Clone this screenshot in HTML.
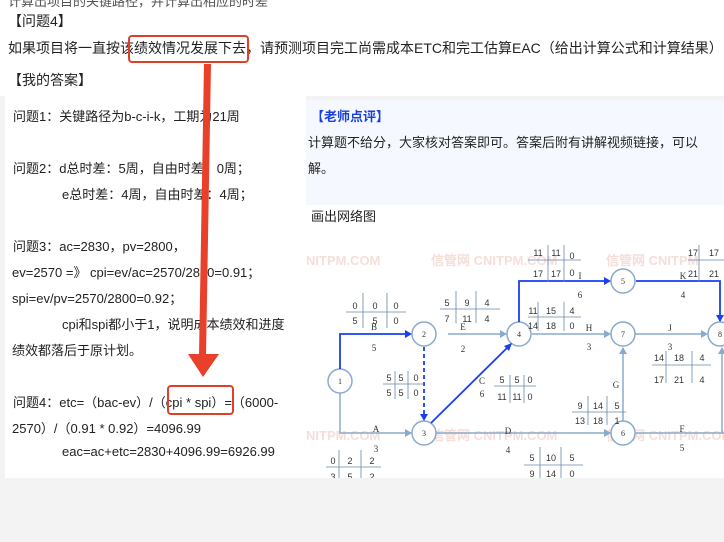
<!DOCTYPE html>
<html><head><meta charset="utf-8"><style>
body{margin:0;width:724px;height:542px;background:#f3f3f3;position:relative;overflow:hidden;font-family:"Liberation Sans","Noto Sans CJK SC",sans-serif;color:#222}
.t{position:absolute;white-space:nowrap}
.top{position:absolute;left:0;top:0;width:724px;height:96px;background:#fff}
.left{position:absolute;left:5px;top:96px;width:301px;height:382px;background:#fff}
.l{position:absolute;font-size:13px;white-space:nowrap}
</style></head><body>
<div class="top"></div>
<div class="left"></div>
<div class="t" style="left:8px;top:-9px;font-size:13px;color:#555">计算出项目的关键路径，并计算出相应的时差</div>
<div class="t" style="left:8px;top:11px;font-size:14px">【问题4】</div>
<div class="t" style="left:8px;top:38px;font-size:14px">如果项目将一直按该绩效情况发展下去，请预测项目完工尚需成本ETC和完工估算EAC（给出计算公式和计算结果）</div>
<div style="position:absolute;left:128px;top:35px;width:117px;height:24px;border:2px solid #e0402a;border-radius:4px"></div>
<div class="t" style="left:8px;top:70px;font-size:14px">【我的答案】</div>
<div class="l" style="left:13px;top:106px">问题1：关键路径为b-c-i-k，工期为21周</div>
<div class="l" style="left:13px;top:158px">问题2：d总时差：5周，自由时差：0周；</div>
<div class="l" style="left:62px;top:184px">e总时差：4周，自由时差：4周；</div>
<div class="l" style="left:13px;top:236px">问题3：ac=2830，pv=2800，</div>
<div class="l" style="left:12px;top:262px">ev=2570 =》 cpi=ev/ac=2570/2830=0.91；</div>
<div class="l" style="left:12px;top:288px">spi=ev/pv=2570/2800=0.92；</div>
<div class="l" style="left:62px;top:314px">cpi和spi都小于1，说明成本绩效和进度</div>
<div class="l" style="left:12px;top:340px">绩效都落后于原计划。</div>
<div class="l" style="left:13px;top:392px">问题4：etc=（bac-ev）/（cpi * spi）=（6000-</div>
<div class="l" style="left:12px;top:418px">2570）/（0.91 * 0.92）=4096.99</div>
<div class="l" style="left:62px;top:444px">eac=ac+etc=2830+4096.99=6926.99</div>
<div style="position:absolute;left:167px;top:385px;width:63px;height:26px;border:2px solid #e0402a;border-radius:4px"></div>
<svg style="position:absolute;left:0;top:0" width="724" height="542">
<polygon points="204,64 211,64 206,356 199,356" fill="#e8402a"/>
<polygon points="188,354 219,354 203,377" fill="#e8402a"/>
</svg>
<div style="position:absolute;left:306px;top:100px;width:418px;height:105px;background:#f5f9ff"></div>
<div class="t" style="left:311px;top:106px;font-size:13px;color:#1a3fe0;font-weight:bold">【老师点评】</div>
<div class="t" style="left:308px;top:132px;font-size:13px">计算题不给分，大家核对答案即可。答案后附有讲解视频链接，可以</div>
<div class="t" style="left:308px;top:158px;font-size:13px">解。</div>
<div style="position:absolute;left:306px;top:205px;width:418px;height:273px;background:#fff"></div>
<div class="t" style="left:311px;top:206px;font-size:13px">画出网络图</div>
<svg style="position:absolute;left:306px;top:205px" width="418" height="273" font-family="Liberation Serif,serif" font-size="9" fill="#333">
<g fill="#f4d6d0" font-family="Liberation Sans,sans-serif" font-size="13" font-weight="bold" opacity="0.8">
<text x="0" y="60">NITPM.COM</text><text x="125" y="60">信管网 CNITPM.COM</text><text x="300" y="60">信管网 CNITPM</text>
<text x="0" y="235">NITPM.COM</text><text x="125" y="235">信管网 CNITPM.COM</text><text x="300" y="235">信管网 CNITPM.COM</text>
</g>
<g stroke="#8aaacc" stroke-width="1.5" fill="none">
<path d="M34 188 V228 H106"/><path d="M130 228 H305"/><path d="M328 228 H418"/>
<path d="M142 129 H200"/><path d="M226 129 H300"/><path d="M325 129 H400"/>
<path d="M317 216 V143"/><path d="M416 228 V143"/>
<circle cx="34" cy="176" r="12" fill="#fff"/><circle cx="118" cy="129" r="12" fill="#fff"/>
<circle cx="118" cy="228" r="12" fill="#fff"/><circle cx="213" cy="129" r="12" fill="#fff"/>
<circle cx="317" cy="76" r="12" fill="#fff"/><circle cx="317" cy="129" r="12" fill="#fff"/>
<circle cx="317" cy="228" r="12" fill="#fff"/><circle cx="414" cy="129" r="12" fill="#fff"/>
</g>
<g fill="#8aaacc">
<polygon points="106,228 99,224 99,232"/>
<polygon points="305,228 298,224 298,232"/><polygon points="201,129 194,125 194,133"/>
<polygon points="305,129 298,125 298,133"/><polygon points="402,129 395,125 395,133"/>
<polygon points="317,142 313,149 321,149"/><polygon points="416,142 412,149 420,149"/>
</g>
<g stroke="#1a3ff0" stroke-width="1.8" fill="none">
<path d="M34 164 V129 H104"/><path d="M125 218 L205 139"/><path d="M213 117 V76 H303"/>
<path d="M330 76 H414 V116"/><path d="M118 142 V214" stroke-dasharray="4,3"/>
</g>
<g fill="#1a3ff0">
<polygon points="106,129 99,125 99,133"/><polygon points="305,76 298,72 298,80"/>
<polygon points="414,117 410,110 418,110"/><polygon points="118,216 114,209 122,209"/>
<polygon points="206,138 198,141 203,146"/>
</g>
<g text-anchor="middle" font-size="8">
<text x="34" y="179">1</text><text x="118" y="132">2</text><text x="118" y="231">3</text><text x="213" y="132">4</text>
<text x="317" y="79">5</text><text x="317" y="132">7</text><text x="317" y="231">6</text><text x="414" y="132">8</text>
</g>
<g text-anchor="middle">
<text x="68" y="125">B</text><text x="68" y="146">5</text><text x="157" y="125">E</text><text x="157" y="147">2</text>
<text x="70" y="227">A</text><text x="70" y="247">3</text><text x="202" y="229">D</text><text x="202" y="248">4</text>
<text x="176" y="179">C</text><text x="176" y="192">6</text><text x="274" y="74">I</text><text x="274" y="93">6</text>
<text x="377" y="74">K</text><text x="377" y="93">4</text><text x="283" y="126">H</text><text x="283" y="145">3</text>
<text x="364" y="126">J</text><text x="364" y="145">3</text><text x="310" y="183">G</text><text x="376" y="227">F</text><text x="376" y="246">5</text>
</g>
<g stroke="#6688aa" stroke-width="0.8" fill="none">
<path d="M40 107 H100 M57 88 V123 M81 88 V123"/>
<path d="M134 104 H194 M150 86 V118 M170 86 V118"/>
<path d="M222 55 H275 M242 40 V77 M258 40 V77"/>
<path d="M222 112 H275 M232 97 V126 M258 97 V126"/>
<path d="M77 179 H118 M89 166 V194 M102 166 V194"/>
<path d="M188 181 H230 M204 170 V198 M218 170 V198"/>
<path d="M266 207 H320 M282 191 V220 M301 191 V220"/>
<path d="M346 160 H405 M360 146 V178 M386 146 V178"/>
<path d="M20 262 H75 M33 245 V278 M55 245 V278"/>
<path d="M218 260 H277 M234 242 V273 M255 242 V273"/>
<path d="M382 55 H418 M393 40 V77"/>
</g>
<g font-family="Liberation Sans,sans-serif" font-size="9" text-anchor="middle">
<text x="49" y="104">0</text><text x="69" y="104">0</text><text x="90" y="104">0</text><text x="49" y="119">5</text><text x="69" y="119">5</text><text x="90" y="119">0</text>
<text x="141" y="101">5</text><text x="161" y="101">9</text><text x="181" y="101">4</text><text x="141" y="117">7</text><text x="161" y="117">11</text><text x="181" y="117">4</text>
<text x="232" y="51">11</text><text x="250" y="51">11</text><text x="266" y="54">0</text><text x="232" y="72">17</text><text x="250" y="72">17</text><text x="266" y="71">0</text>
<text x="227" y="109">11</text><text x="245" y="109">15</text><text x="266" y="109">4</text><text x="227" y="124">14</text><text x="245" y="124">18</text><text x="266" y="124">0</text>
<text x="83" y="176">5</text><text x="95" y="176">5</text><text x="110" y="176">0</text><text x="83" y="191">5</text><text x="95" y="191">5</text><text x="110" y="191">0</text>
<text x="196" y="178">5</text><text x="211" y="178">5</text><text x="224" y="178">0</text><text x="196" y="195">11</text><text x="211" y="195">11</text><text x="224" y="195">0</text>
<text x="274" y="204">9</text><text x="292" y="204">14</text><text x="311" y="204">5</text><text x="274" y="219">13</text><text x="292" y="219">18</text><text x="311" y="219">1</text>
<text x="353" y="156">14</text><text x="373" y="156">18</text><text x="396" y="156">4</text><text x="353" y="178">17</text><text x="373" y="178">21</text><text x="396" y="178">4</text>
<text x="27" y="259">0</text><text x="44" y="259">2</text><text x="66" y="259">2</text><text x="27" y="275">3</text><text x="44" y="275">5</text><text x="66" y="275">2</text>
<text x="226" y="256">5</text><text x="245" y="256">10</text><text x="266" y="256">5</text><text x="226" y="272">9</text><text x="245" y="272">14</text><text x="266" y="272">0</text>
<text x="387" y="51">17</text><text x="408" y="51">17</text><text x="387" y="72">21</text><text x="408" y="72">21</text>
</g>
</svg>
</body></html>
